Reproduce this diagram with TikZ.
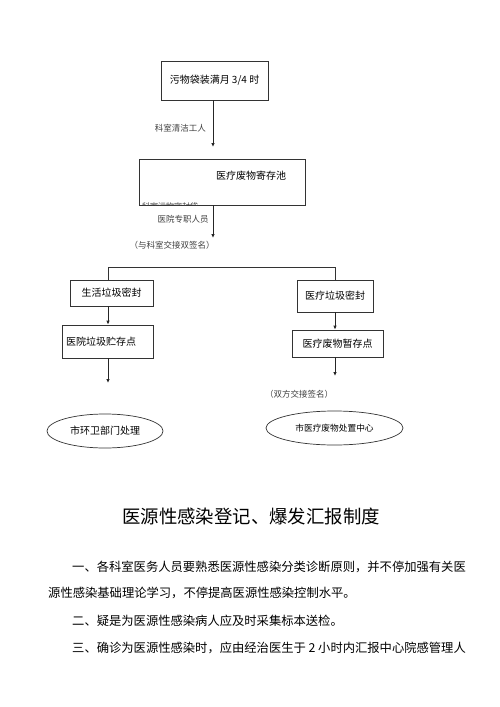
\documentclass[tikz,border=0pt]{standalone}
\usepackage{fontspec}
\setmainfont{Noto Sans CJK SC}
\usetikzlibrary{arrows.meta, positioning, shapes.geometric}

\begin{document}
\begin{tikzpicture}[
  x=1pt, y=-1pt,
  box/.style={rectangle, draw=black!80, line width=0.7pt, inner sep=0pt, font=\fontsize{10}{12}\selectfont},
  oval/.style={ellipse, draw=black!80, line width=0.7pt, inner sep=0pt, font=\fontsize{10}{12}\selectfont},
  note/.style={inner sep=0pt, font=\fontsize{8.5}{10}\selectfont, text=black!75},
  arrow/.style={-{Latex[length=4pt,width=3.5pt]}, line width=0.8pt, black!85},
  link/.style={line width=0.7pt, black!80},
  para/.style={anchor=west, inner sep=0pt, font=\fontsize{12.3}{14}\selectfont}
]
  \useasboundingbox[fill=white] (0,0) rectangle (500,707);

  % flow chart
  \node[box, minimum width=107pt, minimum height=39pt] (full) at (214.5,80.5) {污物袋装满月 3/4 时};
  \node[box, minimum width=166pt, minimum height=46pt] (pool) at (222,182) {};
  \node[inner sep=0pt, font=\fontsize{10}{12}\selectfont] (pooltext) at (251,176) {医疗废物寄存池};
  \begin{scope}
    \clip (pool.south west) rectangle (pool.north east);
    \node[note, anchor=west, font=\fontsize{8}{9}\selectfont] (poolcut) at (142,206) {科室污物密封袋};
  \end{scope}

  \coordinate (poolin) at (213,147);
  \coordinate (handout) at (213,238);
  \draw[arrow] (full.south -| poolin) -- (poolin);
  \node[note, anchor=east] (cleaner) at (206,128) {科室清洁工人};
  \draw[arrow] (pool.south -| handout) -- (handout);
  \node[note] (staff) at (183,219) {医院专职人员};
  \node[note] (signa) at (172,245) {（与科室交接双签名）};

  % two branches
  \node[box, minimum width=83pt, minimum height=26pt] (lifeseal) at (111.5,293) {生活垃圾密封};
  \node[box, minimum width=76pt, minimum height=32pt] (medseal) at (335,296) {医疗垃圾密封};
  \node[box, minimum width=91pt, minimum height=33pt, text width=83pt] (lifestore) at (107.5,341.5) {医院垃圾贮存点};
  \node[box, minimum width=91pt, minimum height=27pt] (medstore) at (337.5,343.5) {\raisebox{-4pt}{医疗废物暂存点}};

  \coordinate (splitl) at (108,267);
  \coordinate (splitr) at (335,267);
  \draw[link] (lifeseal.north -| splitl) -- (splitl) -- (splitr) -- (medseal.north -| splitr);
  \draw[arrow] (lifeseal.south -| splitl) -- (lifestore.north -| splitl);
  \draw[arrow] (medseal.south) -- (medseal.south |- medstore.north);

  \coordinate (lifeend) at (108,383);
  \coordinate (medend) at (335,376);
  \draw[arrow] (lifestore.south -| lifeend) -- (lifeend);
  \draw[arrow] (medstore.south -| medend) -- (medend);
  \node[note] (signb) at (299,394) {（双方交接签名）};

  \node[oval, minimum width=116pt, minimum height=34pt] (sanit) at (105,431) {市环卫部门处理};
  \node[oval, minimum width=137pt, minimum height=34pt, font=\fontsize{8.7}{10}\selectfont] (center) at (334.5,428) {市医疗废物处置中心};

  % regulation text
  \node[inner sep=0pt, font=\fontsize{18.4}{20}\selectfont] (title) at (251,516) {医源性感染登记、爆发汇报制度};
  \node[para] (pone) at (72,567) {一、各科室医务人员要熟悉医源性感染分类诊断原则，并不停加强有关医};
  \node[para] (poneb) at (48,593) {源性感染基础理论学习，不停提高医源性感染控制水平。};
  \node[para] (ptwo) at (72,621) {二、疑是为医源性感染病人应及时采集标本送检。};
  \node[para] (pthree) at (72,648) {三、确诊为医源性感染时，应由经治医生于 2 小时内汇报中心院感管理人};
\end{tikzpicture}
\end{document}
